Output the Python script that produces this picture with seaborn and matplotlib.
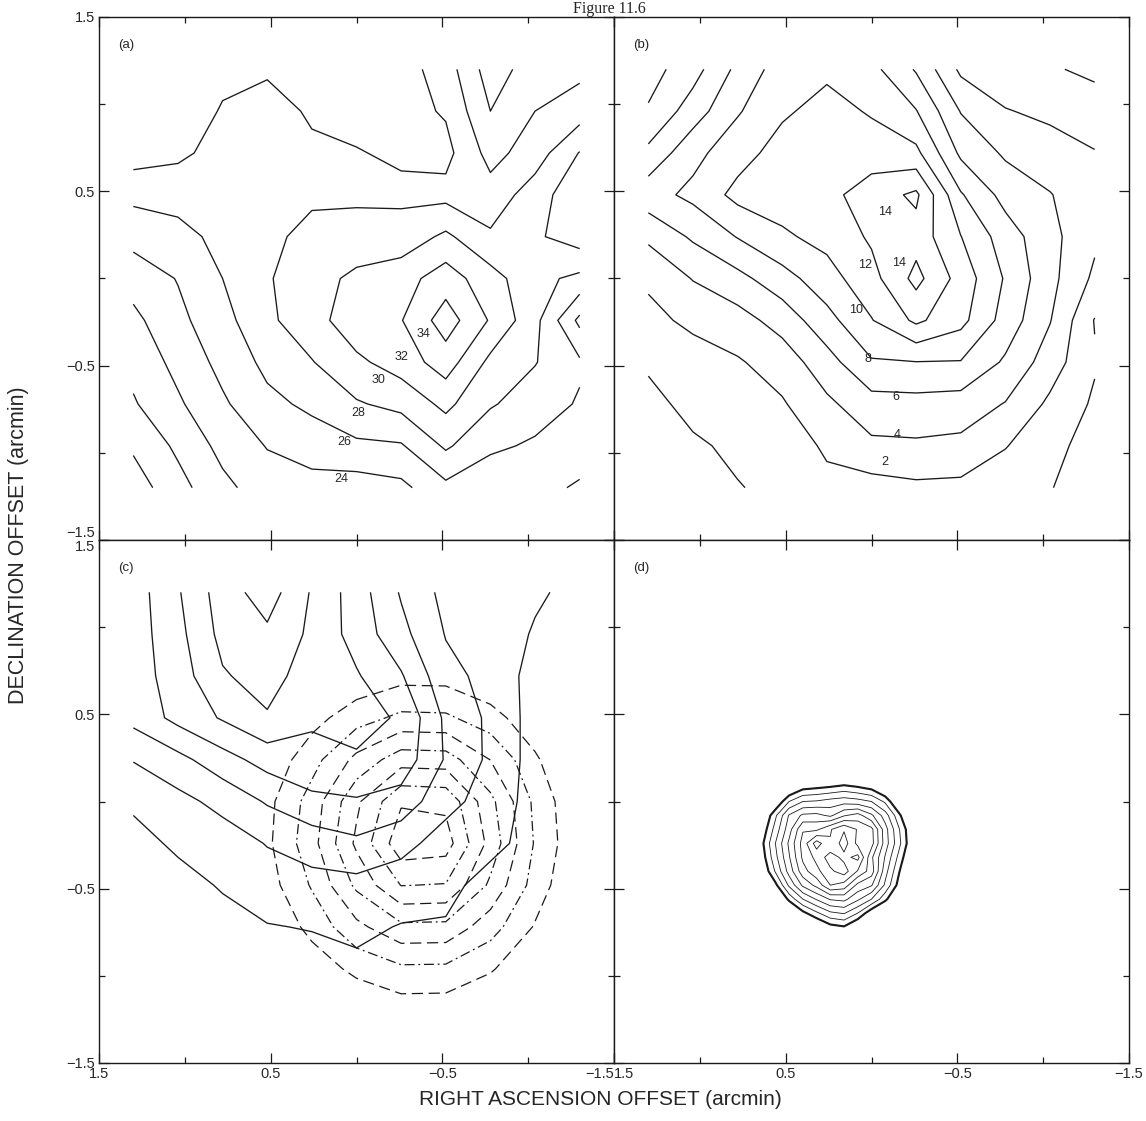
import numpy as np
import matplotlib
matplotlib.use("Agg")
import matplotlib.pyplot as plt
import seaborn as sns

sns.set_theme(style="white")
plt.rcParams['font.family'] = ['Liberation Sans', 'DejaVu Sans']

# ---------------- data grids (RA offset decreasing left->right, Dec offset top->bottom)
X_COORD = [1.3, 1.04, 0.78, 0.52, 0.26, 0.0, -0.26, -0.52, -0.78, -1.04, -1.3]
Y_COORD = [1.2, 0.96, 0.72, 0.48, 0.24, 0.0, -0.24, -0.48, -0.72, -0.96, -1.2]

# panel (a): one list per RA column, values from top (north) to bottom
A_COLS = [
    [29.5, 29.5, 29.0, 26.5, 24.7, 22.8, 21.5, 20.6, 19.8, 18.3, 17.0],
    [29.5, 29.5, 28.4, 26.8, 25.3, 24.1, 23.5, 22.6, 21.7, 20.4, 19.3],
    [28.6, 27.8, 27.3, 27.0, 26.6, 26.0, 25.3, 24.6, 23.7, 22.6, 21.5],
    [28.3, 27.1, 27.4, 27.5, 27.6, 27.8, 27.6, 26.5, 25.5, 24.1, 23.0],
    [28.8, 28.3, 27.6, 27.7, 28.5, 29.3, 29.2, 27.9, 26.4, 25.0, 23.2],
    [28.8, 28.6, 27.9, 27.6, 28.9, 30.4, 31.2, 29.6, 27.8, 25.6, 23.0],
    [28.9, 28.7, 28.3, 27.6, 28.8, 31.2, 31.9, 30.9, 28.6, 25.8, 23.5],
    [27.0, 27.8, 28.6, 27.4, 30.4, 33.0, 35.0, 33.0, 30.5, 28.3, 25.5],
    [23.0, 24.0, 25.3, 26.8, 28.3, 30.8, 31.8, 29.5, 28.2, 26.4, 24.5],
    [25.0, 26.0, 27.0, 29.0, 29.7, 28.6, 28.6, 28.1, 27.0, 25.7, 24.5],
    [25.5, 27.0, 30.1, 31.5, 31.0, 27.5, 23.5, 26.3, 25.8, 24.8, 23.8],
]
A_LEVELS = [18, 20, 22, 24, 26, 28, 30, 32, 34]
A_LABELS = ["34", "32", "30", "28", "26", "24"]
A_LABEL_X = [-0.39, -0.26, -0.13, -0.01, 0.07, 0.09]
A_LABEL_Y = [-0.32, -0.45, -0.58, -0.77, -0.94, -1.15]

# panel (b)
B_COLS = [
    [1.2, 2.2, 4.5, 7.2, 4.4, 2.3, 1.5, 0.3, -0.6, -1.5, -2.5],
    [3.2, 5.0, 7.4, 8.5, 6.3, 4.1, 2.4, 1.2, 0.6, -0.3, -1.2],
    [6.5, 7.8, 9.2, 10.6, 8.1, 5.4, 3.2, 1.8, 1.0, 0.4, -0.1],
    [9.0, 9.7, 10.8, 10.9, 9.7, 7.2, 4.8, 2.9, 1.8, 0.9, 0.5],
    [9.6, 10.7, 11.2, 11.4, 10.6, 9.2, 7.3, 5.2, 3.6, 2.3, 1.5],
    [8.6, 9.8, 11.0, 13.0, 12.3, 11.3, 9.9, 7.8, 5.2, 3.6, 1.2],
    [5.8, 8.1, 10.5, 14.4, 13.2, 14.6, 12.4, 7.95, 5.3, 3.7, 1.6],
    [1.6, 3.9, 5.6, 8.2, 10.05, 11.2, 10.6, 7.9, 5.1, 3.5, 1.5],
    [0.8, 2.1, 3.7, 5.3, 7.0, 7.8, 7.2, 5.7, 3.9, 2.1, 0.8],
    [0.2, 1.6, 2.8, 4.1, 4.6, 4.6, 4.1, 3.0, 1.6, 0.6, 0.1],
    [-0.4, 0.9, 2.1, 2.6, 2.4, 1.6, -0.1, 0.2, -0.3, -0.8, -1.2],
]
B_LEVELS = [0, 2, 4, 6, 8, 10, 12, 14]
B_LABELS = ["14", "14", "12", "10", "8", "6", "4", "2"]
B_LABEL_X = [-0.08, -0.16, 0.04, 0.09, 0.02, -0.14, -0.15, -0.08]
B_LABEL_Y = [0.38, 0.09, 0.08, -0.18, -0.46, -0.68, -0.90, -1.05]

# panel (c) solid contours
C_SOLID_COLS = [
    [3.5, 3.5, 3.5, 3.3, 2.05, 1.2, 0.6, 0.3, 0.1, 0.0, 0.0],
    [4.9, 4.7, 4.5, 4.3, 2.7, 1.7, 1.2, 0.6, 0.3, 0.1, 0.0],
    [6.5, 6.3, 5.9, 5.1, 3.6, 2.3, 1.5, 1.1, 0.6, 0.3, 0.1],
    [7.5, 6.8, 6.4, 5.9, 4.4, 3.1, 2.05, 1.5, 0.95, 0.5, 0.2],
    [5.9, 5.8, 5.5, 5.2, 4.6, 3.8, 2.4, 1.7, 1.05, 0.6, 0.3],
    [4.5, 4.6, 5.1, 5.3, 4.9, 3.9, 2.8, 1.7, 1.2, 0.8, 0.4],
    [2.9, 3.3, 4.1, 4.9, 4.6, 3.6, 2.3, 1.5, 0.95, 0.6, 0.4],
    [1.7, 1.95, 2.3, 2.8, 2.9, 2.3, 1.6, 1.3, 0.9, 0.5, 0.3],
    [1.4, 1.6, 1.7, 1.8, 1.8, 1.6, 1.3, 0.6, 0.5, 0.3, 0.2],
    [1.15, 0.9, 0.6, 0.6, 0.6, 0.6, 0.6, 0.5, 0.3, 0.2, 0.1],
    [0.7, 0.5, 0.4, 0.4, 0.4, 0.4, 0.4, 0.3, 0.2, 0.1, 0.0],
]
C_SOLID_LEVELS = [1, 2, 3, 4, 5, 6, 7]

# panel (c) dashed / dash-dotted contours (rows top -> bottom)
C_DASH_ROWS = [
    [-2, -2, -2, -2, -2, -2, -2, -2, -2, -2, -2],
    [-2, -2, -2, -2, -1.7, -1.1, -0.8, -0.8, -1.2, -1.95, -2],
    [-2, -2, -2, -1.4, -0.46, 0.26, 0.65, 0.63, 0.14, -0.75, -1.9],
    [-2, -2, -1.75, -0.5, 0.63, 1.57, 2.23, 2.18, 1.41, 0.29, -1.03],
    [-2, -2, -1.15, 0.25, 1.61, 3.28, 4.55, 4.48, 2.98, 1.17, -0.35],
    [-2, -2, -0.79, 0.7, 2.43, 4.8, 6.88, 6.76, 4.28, 1.77, 0.05],
    [-2, -2, -0.7, 0.79, 2.64, 5.2, 7.66, 7.47, 4.65, 1.9, 0.14],
    [-2, -2, -0.9, 0.55, 2.1, 4.21, 6.03, 5.94, 3.8, 1.58, -0.07],
    [-2, -2, -1.3, 0.05, 1.32, 2.73, 3.76, 3.72, 2.43, 0.91, -0.55],
    [-2, -2, -2, -0.7, 0.4, 1.27, 1.81, 1.78, 1.12, 0.07, -1.2],
    [-2, -2, -2, -1.55, -0.63, 0.07, 0.45, 0.43, -0.04, -0.9, -2],
]
C_DASH_LEVELS = [1, 2, 3, 4, 5, 6, 7]

# panel (d): small optical sketch of the remnant
D_X = [0.72, 0.64, 0.56, 0.48, 0.40, 0.32, 0.24, 0.16, 0.08, 0.0, -0.08, -0.16, -0.24, -0.32]
D_Y = [0.16, 0.08, 0.0, -0.08, -0.16, -0.24, -0.32, -0.40, -0.48, -0.56, -0.64, -0.72, -0.80]
D_ROWS = [
    [-1.5, -1.5, -1.5, -1.5, -1.5, -1.5, -1.5, -1.5, -1.5, -1.5, -1.5, -1.5, -1.5, -1.5],
    [-1.5, -1.5, -1.5, -0.8, 0.2, 0.4, 0.6, 0.9, 0.6, 0.2, -0.9, -1.5, -1.5, -1.5],
    [-1.5, -1.5, -0.6, 1.5, 2.5, 2.6, 2.9, 3.1, 2.9, 2.5, 1.3, -0.9, -1.5, -1.5],
    [-1.5, -0.9, 1.3, 3.6, 4.7, 4.8, 4.3, 5.4, 5.9, 4.7, 3.0, 0.8, -1.5, -1.5],
    [-1.5, -0.3, 1.9, 4.1, 6.4, 6.3, 7.4, 8.4, 7.4, 6.8, 3.9, 1.6, -0.6, -1.5],
    [-1.5, 0.2, 2.5, 4.7, 6.9, 9.0, 7.6, 9.0, 7.2, 6.9, 4.0, 1.8, -0.5, -1.5],
    [-1.5, -0.1, 2.2, 4.4, 6.7, 7.8, 9.0, 8.2, 8.8, 5.7, 3.4, 1.2, -1.0, -1.5],
    [-1.5, -0.6, 1.6, 3.9, 6.1, 7.2, 8.3, 9.0, 7.4, 6.0, 2.9, 0.6, -1.5, -1.5],
    [-1.5, -1.5, 0.2, 2.7, 4.7, 5.8, 7.5, 7.1, 5.2, 4.6, 2.3, 0.1, -1.5, -1.5],
    [-1.5, -1.5, -1.5, 0.8, 2.5, 3.6, 4.6, 4.8, 3.7, 2.5, 0.8, -1.2, -1.5, -1.5],
    [-1.5, -1.5, -1.5, -1.5, 0.2, 1.3, 2.3, 2.6, 1.5, -0.3, -1.5, -1.5, -1.5, -1.5],
    [-1.5, -1.5, -1.5, -1.5, -1.5, -0.9, 0.1, 0.4, -0.8, -1.5, -1.5, -1.5, -1.5, -1.5],
    [-1.5, -1.5, -1.5, -1.5, -1.5, -1.5, -1.5, -1.5, -1.5, -1.5, -1.5, -1.5, -1.5, -1.5],
]
D_LEVELS = [0.5, 1.5, 2.5, 3.5, 4.5, 5.5, 6.5, 7.5, 8.5]

PANEL_TAGS = ["(a)", "(b)", "(c)", "(d)"]
MAJOR_TICKS = [1.5, 0.5, -0.5, -1.5]
MINOR_TICKS = [1.0, 0.0, -1.0]
TICK_TEXT = ["1.5", "0.5", "\u22120.5", "\u22121.5"]

# ---------------- figure
fig = plt.figure(figsize=(11.46, 11.21), dpi=100)
W, H = 1146.0, 1121.0
left_px, mid_px, right_px = 99, 614, 1129
top_px, midy_px, bot_px = 17, 540, 1063
pw = (mid_px - left_px) / W
ph = (midy_px - top_px) / H
ax_a = fig.add_axes([left_px / W, 1 - midy_px / H, pw, ph])
ax_b = fig.add_axes([mid_px / W, 1 - midy_px / H, (right_px - mid_px) / W, ph])
ax_c = fig.add_axes([left_px / W, 1 - bot_px / H, pw, (bot_px - midy_px) / H])
ax_d = fig.add_axes([mid_px / W, 1 - bot_px / H, (right_px - mid_px) / W, (bot_px - midy_px) / H])
axes = [ax_a, ax_b, ax_c, ax_d]

GX, GY = np.meshgrid(X_COORD, Y_COORD)
LW = 0.95

za = np.array(A_COLS).T
ax_a.contour(GX, GY, za, levels=A_LEVELS, colors="k", linewidths=LW, linestyles="solid")
for t, x, y in zip(A_LABELS, A_LABEL_X, A_LABEL_Y):
    ax_a.text(x, y, t, fontsize=9, ha="center", va="center")

zb = np.array(B_COLS).T
ax_b.contour(GX, GY, zb, levels=B_LEVELS, colors="k", linewidths=LW, linestyles="solid")
for t, x, y in zip(B_LABELS, B_LABEL_X, B_LABEL_Y):
    ax_b.text(x, y, t, fontsize=9, ha="center", va="center")

zc = np.array(C_SOLID_COLS).T
ax_c.contour(GX, GY, zc, levels=C_SOLID_LEVELS, colors="k", linewidths=LW, linestyles="solid")
zd = np.array(C_DASH_ROWS)
dash_styles = []
for i in range(len(C_DASH_LEVELS)):
    if (len(C_DASH_LEVELS) - 1 - i) % 2 == 0:
        dash_styles.append((0, (9, 4.5)))
    else:
        dash_styles.append((0, (8, 3, 1.5, 3)))
ax_c.contour(GX, GY, zd, levels=C_DASH_LEVELS, colors="k", linewidths=0.9, linestyles=dash_styles)

DX, DY = np.meshgrid(D_X, D_Y)
zdd = np.array(D_ROWS, dtype=float)
ax_d.contour(DX, DY, zdd, levels=D_LEVELS, colors="k", linewidths=0.6, linestyles="solid")
ax_d.contour(DX, DY, zdd, levels=[0.5], colors="k", linewidths=1.5, linestyles="solid")

for ax, tag in zip(axes, PANEL_TAGS):
    ax.set_xlim(1.5, -1.5)
    ax.set_ylim(-1.5, 1.5)
    ax.set_facecolor("white")
    for s in ax.spines.values():
        s.set_color("k")
        s.set_linewidth(1.0)
        s.set_visible(True)
    ax.set_xticks(MAJOR_TICKS)
    ax.set_yticks(MAJOR_TICKS)
    ax.set_xticks(MINOR_TICKS, minor=True)
    ax.set_yticks(MINOR_TICKS, minor=True)
    ax.tick_params(which="both", direction="in", top=True, right=True, bottom=True, left=True,
                   color="k", width=0.9, labelsize=10.5, pad=3)
    ax.tick_params(which="major", length=7)
    ax.tick_params(which="minor", length=4)
    ax.grid(False)
    ax.text(0.038, 0.947, tag, transform=ax.transAxes, fontsize=9.5, ha="left", va="center")

for ax in axes:
    ax.set_xticklabels([])
    ax.set_yticklabels([])
for ax in [ax_c, ax_d]:
    ax.set_xticklabels(TICK_TEXT)
for ax in [ax_a, ax_c]:
    ax.set_yticklabels(TICK_TEXT)
ax_a.get_yticklabels()[-1].set_va("bottom")
ax_c.get_yticklabels()[0].set_va("top")
ax_c.get_xticklabels()[-1].set_ha("right")
ax_d.get_xticklabels()[0].set_ha("left")

fig.text(0.016, 0.514, "DECLINATION OFFSET (arcmin)", rotation=90, ha="center", va="center", fontsize=15.5)
fig.text(0.524, 0.019, "RIGHT ASCENSION OFFSET (arcmin)", ha="center", va="center", fontsize=15)
fig.text(0.532, 0.9995, "Figure 11.6", ha="center", va="top", fontsize=11.5,
         family=["Liberation Serif", "DejaVu Serif"])

fig.savefig("out.png", dpi=100, facecolor="white")
